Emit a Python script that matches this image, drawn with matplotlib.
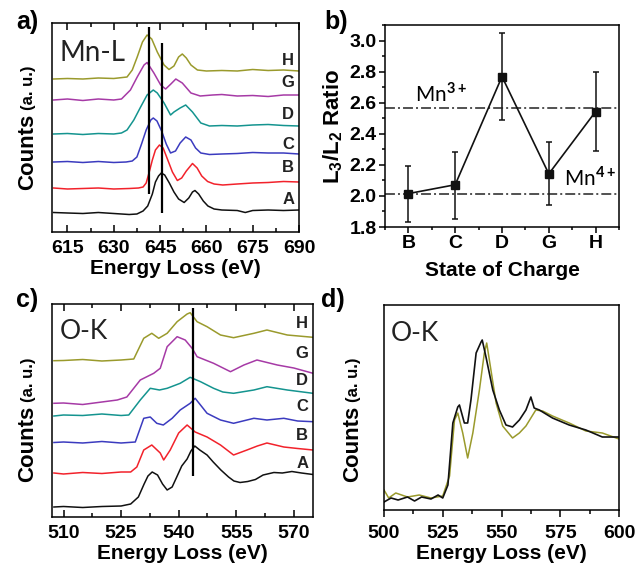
import matplotlib
matplotlib.use("Agg")
import matplotlib.pyplot as plt
from matplotlib.ticker import MultipleLocator, FormatStrFormatter

plt.rcParams["font.family"] = ["Liberation Sans", "DejaVu Sans"]
plt.rcParams["font.weight"] = "bold"
plt.rcParams["axes.labelweight"] = "bold"
plt.rcParams["mathtext.fontset"] = "custom"
plt.rcParams["mathtext.rm"] = "Lato"
plt.rcParams["mathtext.bf"] = "Liberation Sans:bold"

W, H = 638, 564

# ---------------- panel a: Mn-L edge (energy eV, counts a.u. with offset) ----------------
mnl_A_ev = [610.5, 615, 620, 625, 630, 635, 637.5, 639.5, 641, 642.5, 643.5, 644.5, 645.4, 646.5, 648,
            649.5, 651, 652.8, 654.3, 655.5, 656.3, 657.5, 659, 660.5, 662.5, 665, 670, 672.6, 675, 680, 685, 690]
mnl_A_cts = [19.5, 19, 18.5, 19.5, 18.5, 17.5, 18, 21, 26, 38, 50, 56, 59, 57, 49,
             40, 33, 29.5, 34, 40, 41.5, 38, 31, 26, 23, 22, 21.5, 19.5, 21.5, 22, 21.5, 22]
mnl_B_ev = [610.5, 615, 620, 625, 630, 635, 638, 639.5, 640.5, 641.5, 642.5, 643.5, 644.8, 646, 647.5,
            649, 650.6, 652, 653.5, 655.5, 657, 658.5, 660.4, 662.5, 665.3, 670, 675, 680, 685, 690]
mnl_B_cts = [44, 43, 43.5, 44, 43, 43.5, 44, 45, 49, 60, 72, 82, 87, 84, 72,
             60, 51.5, 54, 61, 68.5, 64, 56, 50.5, 48, 47, 48, 49, 49.5, 50.5, 50]
mnl_C_ev = [610.5, 615, 620, 625, 630, 634, 636, 637.5, 639, 640.5, 642, 642.8, 644, 645.5, 647,
            648.4, 650, 651.5, 653.3, 655, 656.5, 658.2, 661, 665, 670, 675, 680, 685, 690]
mnl_C_cts = [70, 70.5, 69.5, 70.5, 69.5, 70, 71, 75, 88, 102, 112, 114, 111, 101, 88,
             79, 81, 89, 95, 92, 84, 79, 77.5, 78, 78.5, 79.5, 79, 79, 78]
mnl_D_ev = [610.5, 615, 620, 625, 630, 632.5, 634.3, 636.5, 638.7, 640.8, 642.8, 644.1, 646.3, 648.4,
            649.5, 651.5, 653.3, 655.5, 658.2, 661, 665, 670, 675, 680, 685, 690]
mnl_D_cts = [98, 98.5, 97.5, 98.5, 98, 99, 102, 112, 125, 137, 142, 139, 129, 117,
             120, 124, 127, 120, 109, 106, 106.5, 106, 107, 107.5, 106.5, 106]
mnl_G_ev = [610.5, 615, 620, 625, 630, 632.5, 635.4, 637.6, 639.8, 640.8, 643, 645.2, 646.8, 648.5,
            650.1, 652.2, 655, 658, 662, 665, 670, 675, 680, 685, 690]
mnl_G_cts = [132, 133, 131.5, 133, 132, 133, 142, 155, 167, 169.5, 159, 147, 143, 148,
             153, 149, 139, 136, 137, 137.5, 136, 136.5, 135.5, 137, 137]
mnl_H_ev = [610.5, 615, 620, 625, 630, 634.3, 636, 637.6, 639.3, 640.8, 642.3, 644.1, 646.3, 647.9,
            649.5, 651, 652.2, 653.5, 655, 657.1, 660, 665, 670, 675, 680, 685, 690]
mnl_H_cts = [153, 153.5, 153, 154, 153.5, 155, 162, 175, 190, 197, 193, 180, 167, 162.5,
             166, 175, 178, 174, 167, 162, 161, 161.5, 161, 162.5, 161.5, 162, 161]
mnl_names = ["A", "B", "C", "D", "G", "H"]
mnl_label_cts = [32, 64, 87, 117, 149, 171]
mnl_mark_ev = [641.3, 645.5]
mnl_mark_lo = [38, 19]
mnl_mark_hi = [205, 189]

# ---------------- panel b: L3/L2 ratio ----------------
soc = ["B", "C", "D", "G", "H"]
ratio = [2.015, 2.072, 2.768, 2.142, 2.543]
ratio_hi = [2.194, 2.284, 3.048, 2.344, 2.800]
ratio_lo = [1.832, 1.854, 2.488, 1.940, 2.288]
mn3_ref = 2.565
mn4_ref = 2.013

# ---------------- panel c: O-K edge ----------------
ok_A_ev = [507.5, 510, 515, 520, 525, 527.5, 529.5, 531, 532, 533.1, 534.5, 535.8, 537, 538.3, 539.5,
           540.8, 542.2, 543.2, 544.2, 545.5, 547.4, 549, 551, 553, 554.4, 556, 558, 560, 562,
           564.8, 567, 569.5, 572, 575]
ok_A_cts = [10, 10.5, 9.5, 10.5, 11, 13, 20, 33, 41, 45, 42, 33, 27, 30, 40,
            51, 58, 66, 71, 67, 62, 55, 47, 40, 36, 34.5, 35.5, 37.5, 42,
            44.5, 44, 45.5, 44, 42.5]
ok_B_ev = [507.5, 510, 515, 520, 525, 527.5, 529.1, 530.9, 533, 535.2, 536.1, 537.8, 540, 542.2,
           544.3, 547.4, 550.9, 554.3, 557.8, 560.5, 563, 567.4, 571, 575]
ok_B_cts = [44, 43, 44.5, 43.5, 45, 45, 50, 67, 72, 64, 57, 67, 84, 92,
            85, 80, 72, 62, 67, 71, 74, 70, 68.5, 67]
ok_C_ev = [507.5, 510, 515, 520, 525, 528.7, 530.9, 532.6, 534.3, 536, 538.3, 540.4, 543, 544.3,
           547.4, 550.9, 554.3, 559.6, 563, 567.4, 571, 575]
ok_C_cts = [74.5, 75, 74, 75.5, 74, 75, 98.7, 100, 93.7, 92, 98.7, 107, 113.7, 118.7,
            103.7, 97, 93.7, 98.7, 97, 98.7, 96, 95.3]
ok_D_ev = [507.5, 510, 515, 520, 525, 527, 530, 532.6, 535, 537, 540.4, 543, 545.7, 549.1,
           551.5, 554.3, 559.6, 563, 568.3, 575]
ok_D_cts = [101, 102, 101.5, 103, 101.5, 102, 117, 128.7, 127, 128.7, 133.7, 139.7, 135.3, 128.7,
            125, 123.7, 127, 130.3, 127, 123.7]
ok_G_ev = [507.5, 510, 515, 520, 524, 526.5, 530, 533.5, 535.2, 537, 539.6, 541.7, 543.5, 544.8,
           549.1, 553.5, 557, 560.4, 565.7, 570, 575]
ok_G_cts = [113.7, 114, 112.5, 115, 117, 120, 137, 143.7, 148.7, 170.3, 180.3, 177, 168.7, 160.3,
            153.7, 145.3, 152, 157, 152, 149, 143.7]
ok_H_ev = [507.5, 510, 515, 520, 525, 528.3, 530.9, 533, 534.8, 537, 539.6, 542.2, 543, 544.8,
           547.4, 550.9, 554.3, 559.6, 563, 568.3, 575]
ok_H_cts = [156.3, 156.5, 157.5, 156, 157, 158, 178.7, 183.7, 178.7, 183.7, 195.3, 203, 204.3, 195.3,
            190.3, 182, 179.3, 183.7, 187, 182, 179.7]
ok_names = ["A", "B", "C", "D", "G", "H"]
ok_label_cts = [53, 81.3, 110.3, 136.3, 163.7, 193.7]
ok_mark_ev = 543.7
ok_mark_lo = 41
ok_mark_hi = 209

# ---------------- panel d: O-K overlay ----------------
okd_black_ev = [500, 503, 506, 510, 513, 516, 520, 523, 525, 527.2, 529.3, 531.4, 532.1, 534.2, 535.6,
                537, 539.2, 541.3, 541.8, 543.4, 546.3, 549.1, 551.9, 554.7, 557.6, 560.4, 562.5,
                563.9, 566.1, 571.7, 578.8, 585.9, 592.9, 600]
okd_black_cts = [8, 12, 10, 13, 9, 13, 11, 15, 12, 25, 87, 103, 105, 87, 87,
                 110, 157, 168, 170, 153, 120, 100, 85, 83, 90, 100, 113,
                 102, 100, 92, 85, 80, 73, 73]
okd_olive_ev = [500, 502, 505, 510, 515, 520, 525, 527.9, 530, 531.4, 533.5, 535.6, 537.8, 540.6,
                542.7, 543.7, 545.5, 547.7, 550.5, 554.7, 557.6, 560.4, 564.6, 567.5, 571.7, 578.8,
                585.9, 592.9, 600]
okd_olive_cts = [20, 12, 17, 13, 15, 12, 14, 34, 90, 97, 77, 52, 77, 120,
                 157, 167, 140, 107, 84, 72, 77, 84, 100, 99, 94, 87,
                 79, 77, 71]

colors = {"A": "#111111", "B": "#f2222b", "C": "#3b3bbf", "D": "#14948f",
          "G": "#a63aa6", "H": "#9a9a2c"}


def box(l, t, r, b):
    return [l / W, 1 - b / H, (r - l) / W, (b - t) / H]


def fxy(x, y):
    return x / W, 1 - y / H


def spectrum_axes(rect, xlim, ylim, step, direction="in", top=True):
    ax = fig.add_axes(rect)
    ax.set_xlim(*xlim)
    ax.set_ylim(*ylim)
    ax.set_yticks([])
    ax.xaxis.set_major_locator(MultipleLocator(step))
    ax.xaxis.set_minor_locator(MultipleLocator(step / 2))
    ax.tick_params(axis="x", which="both", direction=direction, top=top, width=1.1)
    ax.tick_params(axis="x", which="major", length=5, labelsize=14, pad=6)
    ax.tick_params(axis="x", which="minor", length=3)
    for s in ax.spines.values():
        s.set_linewidth(1.1)
    ax.set_xlabel("Energy Loss (eV)", fontsize=15, labelpad=1)
    return ax


def counts_label(x, y_bottom):
    # "Counts" large, "(a. u.)" smaller, both rotated and sharing a baseline
    r = fig.canvas.get_renderer()
    t = fig.text(*fxy(x, y_bottom), "Counts", fontsize=16, rotation=90,
                 rotation_mode="anchor", ha="left", va="baseline")
    ext = t.get_window_extent(r)
    fig.text(x / W, (ext.y1 + 4) / (fig.dpi * fig.get_figheight()),
             "(a. u.)", fontsize=12, rotation=90, rotation_mode="anchor", ha="left", va="baseline")


fig = plt.figure(figsize=(W / 100, H / 100), dpi=100)

# ---- a ----
ax = spectrum_axes(box(52, 23, 299, 232), (610, 690), (0, 209), 15)
mnl = [(mnl_A_ev, mnl_A_cts), (mnl_B_ev, mnl_B_cts), (mnl_C_ev, mnl_C_cts),
       (mnl_D_ev, mnl_D_cts), (mnl_G_ev, mnl_G_cts), (mnl_H_ev, mnl_H_cts)]
for name, (ev, cts), ly in zip(mnl_names, mnl, mnl_label_cts):
    ax.plot(ev, cts, color=colors[name], lw=1.1)
    ax.text(686.5, ly, name, fontsize=12, ha="center", va="center", color="#222222")
ax.vlines(mnl_mark_ev, mnl_mark_lo, mnl_mark_hi, color="black", lw=1.6)
ax.text(0.03, 0.855, "Mn-L", transform=ax.transAxes, fontsize=20, fontweight="normal",
        family="Lato", va="center", color="#222222")
counts_label(33, 190)
fig.text(*fxy(27, 22), "a)", fontsize=18, ha="center", va="center")

# ---- b ----
axb = fig.add_axes(box(385, 25, 619, 227))
xpos = list(range(len(soc)))
err = [[r - lo for r, lo in zip(ratio, ratio_lo)], [hi - r for r, hi in zip(ratio, ratio_hi)]]
axb.errorbar(xpos, ratio, yerr=err, color="#111111", lw=1.2, marker="s", ms=5.5,
             capsize=2.5, capthick=1.1, elinewidth=1.1)
dash = (0, (6.5, 2, 1.3, 2))
axb.axhline(mn3_ref, color="#222222", lw=1.1, ls=dash)
axb.axhline(mn4_ref, color="#222222", lw=1.1, ls=dash)
axb.text(0.15, 2.61, "Mn$^{3+}$", fontsize=15, fontweight="normal", family="Lato", va="baseline")
axb.text(3.32, 2.07, "Mn$^{4+}$", fontsize=15, fontweight="normal", family="Lato", va="baseline")
axb.set_xlim(-0.5, 4.5)
axb.set_ylim(1.8, 3.1)
axb.set_xticks(xpos)
axb.set_xticklabels(soc)
axb.xaxis.set_minor_locator(MultipleLocator(0.5))
axb.yaxis.set_major_locator(MultipleLocator(0.2))
axb.yaxis.set_minor_locator(MultipleLocator(0.1))
axb.yaxis.set_major_formatter(FormatStrFormatter("%.1f"))
axb.tick_params(which="both", direction="out", width=1.1, labelsize=14)
axb.tick_params(which="major", length=4, pad=2)
axb.tick_params(which="minor", length=2.5)
for s in axb.spines.values():
    s.set_linewidth(1.1)
axb.set_xlabel("State of Charge", fontsize=15, labelpad=6)
axb.set_ylabel(r"L$_\mathbf{3}$/L$_\mathbf{2}$ Ratio", fontsize=16, labelpad=3)
fig.text(*fxy(336, 22), "b)", fontsize=18, ha="center", va="center")

# ---- c ----
axc = spectrum_axes(box(52, 304, 313, 517), (507, 575), (0, 213), 15)
ok = [(ok_A_ev, ok_A_cts), (ok_B_ev, ok_B_cts), (ok_C_ev, ok_C_cts),
      (ok_D_ev, ok_D_cts), (ok_G_ev, ok_G_cts), (ok_H_ev, ok_H_cts)]
for name, (ev, cts), ly in zip(ok_names, ok, ok_label_cts):
    axc.plot(ev, cts, color=colors[name], lw=1.1)
    axc.text(572.2, ly, name, fontsize=12, ha="center", va="center", color="#222222")
axc.vlines(ok_mark_ev, ok_mark_lo, ok_mark_hi, color="black", lw=1.6)
axc.text(0.03, 0.87, "O-K", transform=axc.transAxes, fontsize=19, fontweight="normal",
         family="Lato", va="center", color="#222222")
counts_label(33, 482)
fig.text(*fxy(27, 300), "c)", fontsize=18, ha="center", va="center")

# ---- d ----
axd = spectrum_axes(box(384, 305, 619, 510), (500, 600), (0, 205), 25, direction="out", top=False)
axd.plot(okd_olive_ev, okd_olive_cts, color=colors["H"], lw=1.1)
axd.plot(okd_black_ev, okd_black_cts, color="#111111", lw=1.2)
axd.text(0.03, 0.86, "O-K", transform=axd.transAxes, fontsize=19, fontweight="normal",
         family="Lato", va="center", color="#222222")
counts_label(358, 482)
fig.text(*fxy(333, 300), "d)", fontsize=18, ha="center", va="center")

fig.savefig("out.png", dpi=100)
